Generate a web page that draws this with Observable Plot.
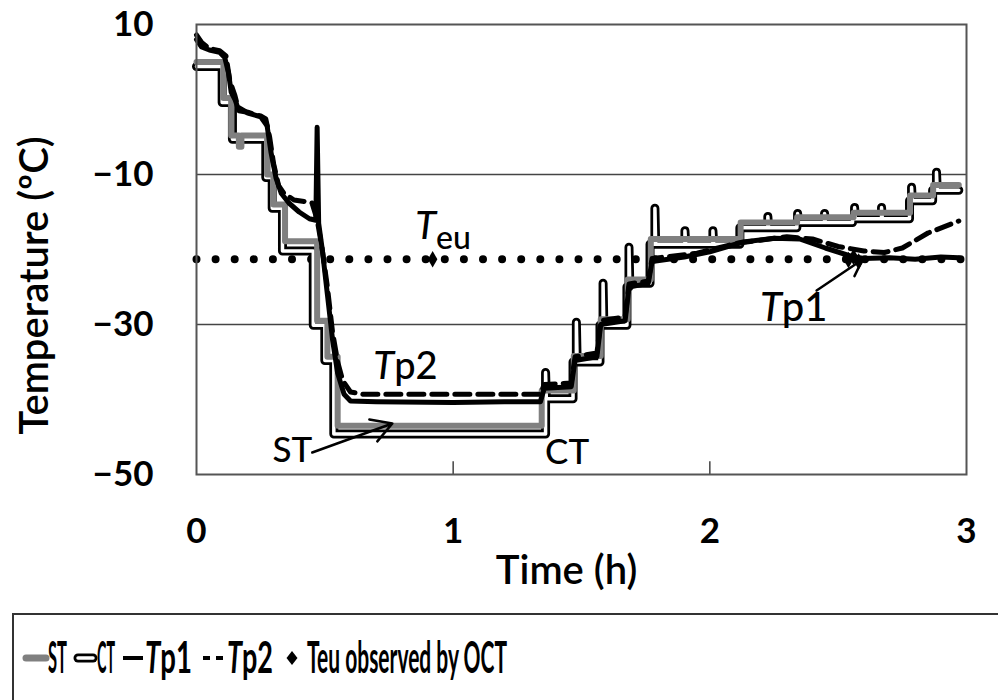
<!DOCTYPE html>
<html><head><meta charset="utf-8">
<script src="https://cdn.jsdelivr.net/npm/d3@7"></script>
<script src="https://cdn.jsdelivr.net/npm/@observablehq/plot@0.6"></script>
<style>
body{margin:0;background:#fff;}
#wrap{position:relative;width:998px;height:700px;overflow:hidden;background:#fff;}
#chart{position:absolute;left:0;top:0;}
#legend{position:absolute;left:0;top:600px;}
text{font-family:Lato,"Open Sans",sans-serif;}
</style></head>
<body><div id="wrap"><div id="chart"></div>
<svg id="legend" width="998" height="100" xmlns="http://www.w3.org/2000/svg">
  <rect x="13" y="14" width="1000" height="100" fill="none" stroke="#333" stroke-width="2"/>
  <line x1="26" y1="58" x2="46" y2="58" stroke="#808080" stroke-width="7" stroke-linecap="round"/>
  <text class="lg" data-x="48" data-w="19" font-size="43" font-weight="700">ST</text>
  <line x1="78" y1="58" x2="93" y2="58" stroke="#000" stroke-width="9" stroke-linecap="round"/>
  <line x1="78" y1="58" x2="93" y2="58" stroke="#fff" stroke-width="3.5" stroke-linecap="round"/>
  <text class="lg" data-x="97" data-w="18" font-size="43" font-weight="700">CT</text>
  <line x1="123" y1="58" x2="143" y2="58" stroke="#000" stroke-width="4"/>
  <text class="lg" data-x="145" data-w="47" font-size="43" font-weight="700"><tspan font-style="italic">T</tspan><tspan>p1</tspan></text>
  <line x1="203" y1="58" x2="210" y2="58" stroke="#000" stroke-width="4"/>
  <line x1="216" y1="58" x2="223" y2="58" stroke="#000" stroke-width="4"/>
  <text class="lg" data-x="227" data-w="46" font-size="43" font-weight="700"><tspan font-style="italic">T</tspan><tspan>p2</tspan></text>
  <path d="M292,51 L297.5,58 L292,65 L286.5,58 Z" fill="#000"/>
  <text class="lg" data-x="307" data-w="200" font-size="43" font-weight="700">Teu  observed by OCT</text>
</svg>
</div>
<script>
// ---- data: [time (h), temperature (°C)] ----
const ST = [[0,5.0],[0.105,5.0],[0.105,0.2],[0.135,0.2],[0.135,-4.8],[0.165,-4.8],[0.165,-6.3],[0.175,-6.3],[0.175,-4.8],[0.275,-4.8],[0.275,-10],[0.3,-10],[0.3,-14],[0.345,-14],[0.345,-18.9],[0.47,-18.9],[0.47,-29.5],[0.51,-29.5],[0.51,-34.3],[0.55,-34.3],[0.55,-43.5],[1.345,-43.5],[1.345,-38.8],[1.47,-38.8],[1.47,-34.2],[1.575,-34.2],[1.575,-29.3],[1.68,-29.3],[1.68,-24],[1.77,-24],[1.77,-18.6],[2.12,-18.6],[2.12,-16.4],[2.34,-16.4],[2.34,-15.7],[2.56,-15.7],[2.56,-15.1],[2.78,-15.1],[2.78,-12.8],[2.87,-12.8],[2.87,-11.4],[2.97,-11.4]];

const CT = [[0,4.4],[0.1,4.4],[0.1,-0.4],[0.14,-0.4],[0.14,-5.3],[0.27,-5.3],[0.27,-10.4],[0.295,-10.4],[0.295,-14.5],[0.335,-14.5],[0.335,-20.2],[0.455,-20.2],[0.455,-30.1],[0.5,-30.1],[0.5,-34.8],[0.535,-34.8],[0.535,-44.6],[1.36,-44.6],[1.36,-36.4],[1.363,-39.9],[1.467,-39.9],[1.467,-35],[1.48,-35],[1.48,-29.7],[1.483,-35],[1.572,-35],[1.572,-30.1],[1.584,-30.1],[1.584,-24.5],[1.587,-30.1],[1.677,-30.1],[1.677,-25],[1.685,-25],[1.685,-19.7],[1.688,-24.5],[1.767,-24.5],[1.767,-19.3],[1.786,-19.3],[1.786,-14.5],[1.789,-19.3],[1.903,-19.3],[1.903,-17.5],[1.906,-19.3],[2.012,-19.3],[2.012,-17.5],[2.015,-19.3],[2.117,-19.3],[2.117,-17.1],[2.226,-17.1],[2.226,-15.6],[2.229,-17.1],[2.339,-17.1],[2.339,-16.4],[2.342,-16.4],[2.342,-15.2],[2.345,-16.4],[2.447,-16.4],[2.447,-15.2],[2.45,-16.4],[2.556,-16.4],[2.556,-15.9],[2.564,-15.9],[2.564,-14.4],[2.567,-15.9],[2.669,-15.9],[2.669,-14.4],[2.672,-15.9],[2.778,-15.9],[2.778,-13.5],[2.786,-13.5],[2.786,-11.7],[2.789,-13.5],[2.868,-13.5],[2.868,-12.1],[2.883,-12.1],[2.883,-9.7],[2.886,-12.1],[2.97,-12.1]];

const Tp1 = [[0,8.0],[0.02,7.0],[0.05,6.6],[0.09,6.3],[0.11,5.6],[0.125,3.5],[0.135,1.0],[0.15,0.0],[0.16,-1.0],[0.2,-1.8],[0.25,-2.3],[0.275,-3.5],[0.29,-7],[0.31,-10.5],[0.33,-12.5],[0.36,-13.8],[0.4,-15],[0.44,-15.9],[0.465,-16.1],[0.47,-3.7],[0.476,-16.5],[0.49,-20],[0.51,-26],[0.53,-32],[0.55,-36.5],[0.575,-39.3],[0.6,-40.2],[0.7,-40.3],[1.0,-40.4],[1.2,-40.3],[1.34,-40.3],[1.355,-38.5],[1.46,-38.3],[1.475,-34.8],[1.56,-34.3],[1.575,-30],[1.67,-29.5],[1.685,-25],[1.76,-24.5],[1.775,-21.6],[1.9,-21.0],[2.0,-20.3],[2.13,-19.0],[2.25,-18.5],[2.35,-18.6],[2.45,-19.8],[2.55,-20.9],[2.6,-21.2],[2.7,-21.1],[2.8,-21.3],[2.9,-21.0],[2.97,-21.1]];

const Tp2 = [[0,8.6],[0.02,7.6],[0.05,6.8],[0.09,6.5],[0.115,5.8],[0.13,2.5],[0.15,0.5],[0.165,-1.5],[0.2,-1.7],[0.25,-2.2],[0.27,-2.6],[0.285,-5],[0.3,-8.5],[0.32,-11.5],[0.34,-12.5],[0.38,-13.4],[0.42,-13.6],[0.45,-13.8],[0.47,-16],[0.49,-20],[0.51,-25],[0.53,-31],[0.55,-35],[0.57,-37.5],[0.6,-39],[0.65,-39.3],[1.0,-39.3],[1.34,-39.3],[1.355,-38],[1.46,-37.8],[1.475,-34.3],[1.56,-33.8],[1.575,-29.5],[1.67,-29],[1.685,-24.6],[1.76,-24.2],[1.775,-21.2],[1.95,-20.5],[2.1,-19.2],[2.3,-18.3],[2.4,-18.6],[2.5,-19.6],[2.6,-20.2],[2.68,-20.4],[2.75,-19.8],[2.85,-17.8],[2.97,-16.2]];

const teuLine = [[0,-21.3],[2.98,-21.3]];
const teuObserved = [[0.92,-21.3],[2.54,-21.4],[2.56,-21.0],[2.58,-21.6]];

const xTicks = [0,1,2,3];
const yTicks = [10,-10,-30,-50];
const gridY = [-10,-30];
const innerTicksX = [1,2];

const labels = [
  {t:0.296, v:-46.87, s:"ST", size:35},
  {t:1.358, v:-47.1, s:"CT", size:35},
  {t:0.689, v:-35.67, s:"Tp2", size:38},
  {t:0.852, v:-17.0, s:"Teu", size:38},
  {t:2.195, v:-27.87, s:"Tp1", size:40}
];
const arrows = [
  {t1:0.451, v1:-47.07, t2:0.763, v2:-43.2},
  {t1:2.416, v1:-25.47, t2:2.595, v2:-21.33}
];
const yTitle = "Temperature (ºC)";
const xTitle = "Time (h)";

const font = 'Lato, "Open Sans", sans-serif';

const chart = Plot.plot({
  width: 998, height: 610,
  marginLeft: 196, marginRight: 32, marginTop: 24, marginBottom: 136,
  style: {fontFamily: font, background: "#fff", color: "#000"},
  x: {domain: [0,3]},
  y: {domain: [-50,10]},
  marks: [
    Plot.ruleY(gridY, {stroke: "#444", strokeWidth: 1.5}),
    Plot.ruleX(innerTicksX, {y1: -50, y2: -48.3, stroke: "#444", strokeWidth: 1.5}),
    Plot.line(teuLine, {x: d=>d[0], y: d=>d[1], stroke: "#000", strokeWidth: 8, strokeDasharray: "0,19.1", strokeLinecap: "round"}),
    Plot.line(CT, {x: d=>d[0], y: d=>d[1], stroke: "#000", strokeWidth: 9, strokeLinejoin: "round", strokeLinecap: "round"}),
    Plot.line(CT, {x: d=>d[0], y: d=>d[1], stroke: "#fff", strokeWidth: 3.5, strokeLinejoin: "round", strokeLinecap: "round"}),
    Plot.line(ST, {x: d=>d[0], y: d=>d[1], stroke: "#808080", strokeWidth: 6, strokeLinejoin: "round"}),
    Plot.line(Tp2, {x: d=>d[0], y: d=>d[1], stroke: "#000", strokeWidth: 5, strokeDasharray: "15,8", strokeLinejoin: "round"}),
    Plot.line(Tp1, {x: d=>d[0], y: d=>d[1], stroke: "#000", strokeWidth: 5, strokeLinejoin: "round"}),
    Plot.dot(teuObserved, {x: d=>d[0], y: d=>d[1], symbol: "diamond", r: 5, fill: "#000"}),
    Plot.arrow(arrows, {x1: "t1", y1: "v1", x2: "t2", y2: "v2", stroke: "#000", strokeWidth: 2.5, headLength: 14, insetStart: 0, insetEnd: 0}),
    ...labels.map(l => Plot.text([l], {x: "t", y: "v", text: "s", textAnchor: "start", lineAnchor: "middle", fontSize: l.size, fill: "#000", fontWeight: 500})),
    Plot.frame({stroke: "#555", strokeWidth: 2}),
    Plot.axisY(yTicks, {tickSize: 0, tickPadding: 43, fontSize: 35, fontWeight: 700, label: null, tickFormat: d3.format("d")}),
    Plot.axisX(xTicks, {tickSize: 0, tickPadding: 44, fontSize: 35, fontWeight: 700, label: null, tickFormat: d3.format("d")}),
    Plot.text([yTitle], {frameAnchor: "left", textAnchor: "middle", lineAnchor: "middle", dx: -161, dy: 36, rotate: -90, fontSize: 40, fontWeight: 600, fill: "#000"}),
    Plot.text([xTitle], {frameAnchor: "bottom", textAnchor: "middle", lineAnchor: "middle", dx: -15, dy: 97, fontSize: 40, fontWeight: 600, fill: "#000"})
  ]
});

// italic "T" with upright remainder for annotation labels
d3.select(chart).selectAll("text").each(function() {
  const s = this.textContent;
  if (s === "Tp1" || s === "Tp2" || s === "Teu") {
    const sel = d3.select(this);
    sel.text(null);
    sel.append("tspan").attr("font-style", "italic").text("T");
    const rest = sel.append("tspan").text(s.slice(1));
    if (s === "Teu") rest.attr("font-size", 32).attr("dy", "0.3em");
  }
});
document.getElementById("chart").appendChild(chart);

// condensed legend text: scale each label horizontally to its width in the reference
document.querySelectorAll("#legend text.lg").forEach(el => {
  const len = el.getComputedTextLength();
  const w = +el.dataset.w, x = +el.dataset.x;
  el.setAttribute("transform", `translate(${x},73) scale(${(w/len).toFixed(4)},1)`);
});
</script>
</body></html>
